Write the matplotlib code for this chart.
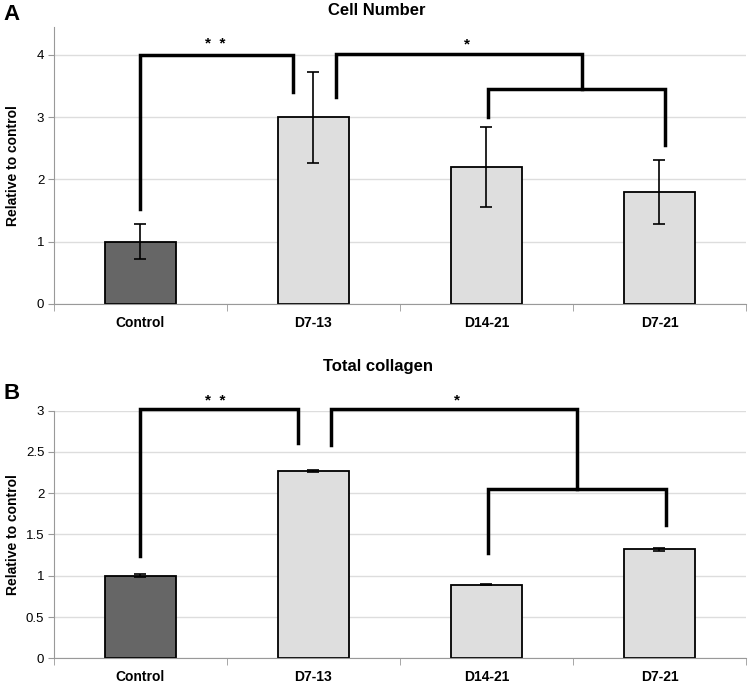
import matplotlib.pyplot as plt
import numpy as np

plt.rcParams['font.family'] = ['Liberation Sans', 'DejaVu Sans']

# dados
categorias = ['Control', 'D7-13', 'D14-21', 'D7-21']
cell_media = [1.0, 3.0, 2.2, 1.8]
cell_erro = [0.28, 0.73, 0.64, 0.51]
col_media = [1.0, 2.27, 0.89, 1.32]
col_erro = [0.02, 0.01, 0.006, 0.02]

# colchetes de significancia: (x1, x2, y, queda esquerda, queda direita)
cell_colchetes = [(0, 0.88, 4.0, 1.53, 3.4),
                  (1.13, 2.555, 4.02, 3.32, 3.45),
                  (2.006, 3.03, 3.45, 3.0, 2.55)]
col_colchetes = [(0, 0.913, 3.02, 1.24, 2.61),
                 (1.10, 2.526, 3.02, 2.58, 2.05),
                 (2.01, 3.035, 2.05, 1.28, 1.61)]
cell_estrelas = [(0.43, 4.17, '*  *'), (1.89, 4.17, '*')]
col_estrelas = [(0.43, 3.12, '*  *'), (1.83, 3.12, '*')]

cores = ['#666666', '#dedede', '#dedede', '#dedede']


def painel(ax, medias, erros, colchetes, estrelas, ymax, yticks):
    x = np.arange(len(categorias))
    ax.set_axisbelow(True)
    ax.yaxis.grid(True, color='#dddddd', lw=1)
    ax.bar(x, medias, width=0.41, color=cores, edgecolor='black', lw=1.3, zorder=2)
    ax.errorbar(x, medias, yerr=erros, fmt='none', ecolor='black',
                elinewidth=1.2, capsize=4, capthick=1.2, zorder=3)
    for x1, x2, y, ya, yb in colchetes:
        ax.plot([x1, x1, x2, x2], [ya, y, y, yb], color='black', lw=2.5,
                solid_joinstyle='miter', clip_on=False, zorder=4)
    for xs, ys, s in estrelas:
        ax.text(xs, ys, s, ha='center', va='center', fontsize=11, fontweight='bold')
    ax.set_xlim(-0.5, 3.5)
    ax.set_ylim(0, ymax)
    ax.set_yticks(yticks)
    ax.set_yticklabels([('%g' % v) for v in yticks], fontsize=9.5)
    ax.set_xticks(x)
    ax.set_xticklabels(categorias, fontsize=10, fontweight='bold')
    ax.set_xticks(np.arange(-0.5, 4, 1), minor=True)
    ax.tick_params(axis='x', which='major', length=0, pad=8.5)
    ax.tick_params(axis='x', which='minor', length=5, color='#999999')
    ax.tick_params(axis='y', length=4, color='#999999', pad=3)
    for lado in ['top', 'right']:
        ax.spines[lado].set_visible(False)
    for lado in ['left', 'bottom']:
        ax.spines[lado].set_color('#999999')
    ax.set_ylabel('Relative to control', fontsize=10, fontweight='bold')
    ax.yaxis.set_label_coords(-0.049, 0.5)


fig = plt.figure(figsize=(7.51, 6.84), dpi=100)
ax1 = fig.add_axes([0.0719, 0.5556, 0.9214, 0.405])
ax2 = fig.add_axes([0.0719, 0.0376, 0.9214, 0.362])

painel(ax1, cell_media, cell_erro, cell_colchetes, cell_estrelas, 4.45, [0, 1, 2, 3, 4])
painel(ax2, col_media, col_erro, col_colchetes, col_estrelas, 3, [0, 0.5, 1, 1.5, 2, 2.5, 3])

fig.text(0.502, 0.985, 'Cell Number', fontsize=12, fontweight='bold', ha='center', va='center')
fig.text(0.503, 0.4635, 'Total collagen', fontsize=12, fontweight='bold', ha='center', va='center')
fig.text(0.004, 0.979, 'A', fontsize=16, fontweight='bold', va='center')
fig.text(0.004, 0.425, 'B', fontsize=16, fontweight='bold', va='center')

fig.savefig('out.png', dpi=100)
